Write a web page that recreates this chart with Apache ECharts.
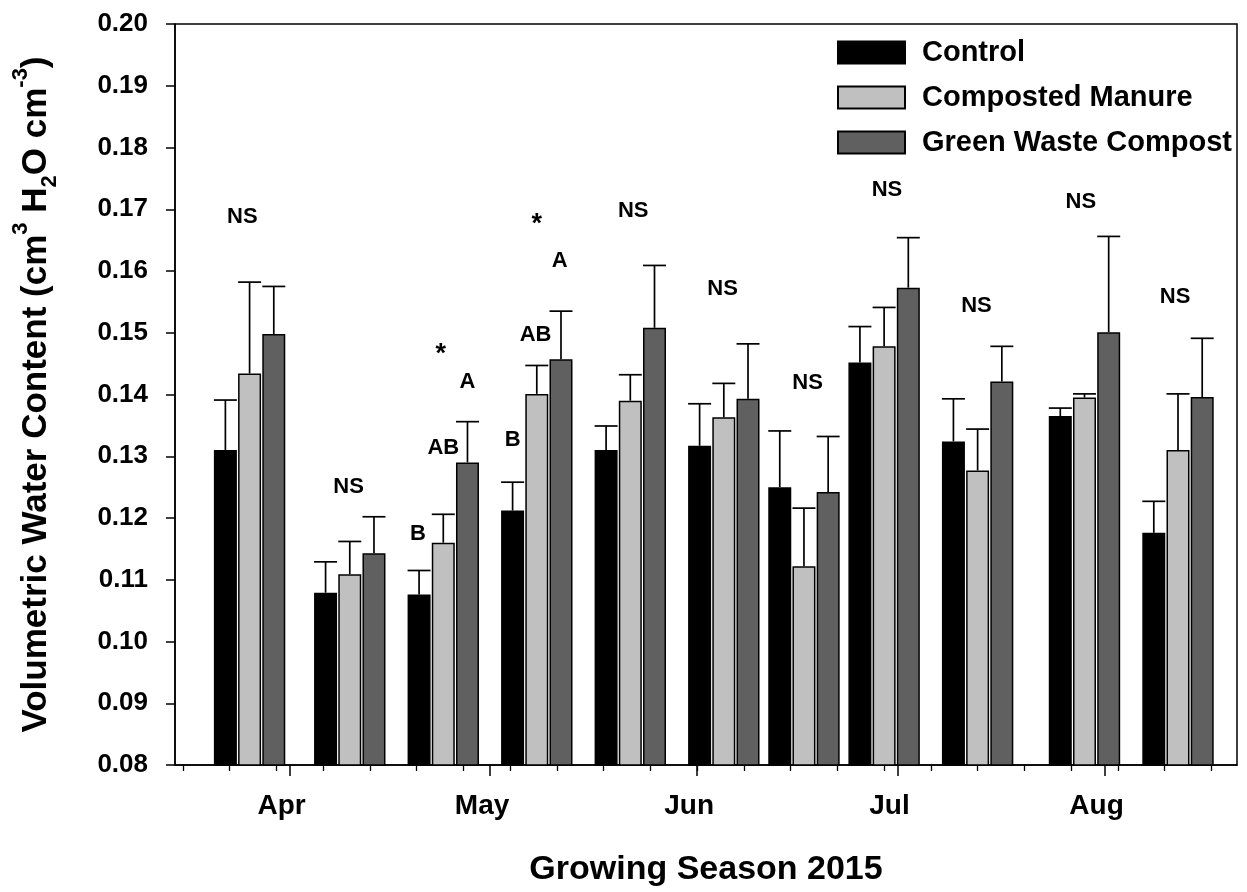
<!DOCTYPE html>
<html>
<head>
<meta charset="utf-8">
<script src="https://cdn.jsdelivr.net/npm/echarts@6/dist/echarts.min.js"></script>
<style>
html,body{margin:0;padding:0;background:#fff;}
#c{width:1247px;height:892px;}
</style>
</head>
<body>
<div id="c"></div>
<script>
// ---------- data ----------
const sampleDates = ['2015-03-26','2015-04-10','2015-04-24','2015-05-08','2015-05-22','2015-06-05','2015-06-17','2015-06-29','2015-07-13','2015-07-29','2015-08-12'];
const seriesNames = ['Control','Composted Manure','Green Waste Compost'];
const control     = [0.1310,0.1079,0.1076,0.1212,0.1310,0.1317,0.1250,0.1452,0.1324,0.1365,0.1176];
const controlTop  = [0.1391,0.1129,0.1115,0.1258,0.1349,0.1385,0.1341,0.1510,0.1393,0.1378,0.1227];
const manure      = [0.1434,0.1109,0.1160,0.1401,0.1390,0.1363,0.1122,0.1478,0.1277,0.1395,0.1310];
const manureTop   = [0.1582,0.1162,0.1206,0.1447,0.1432,0.1418,0.1216,0.1541,0.1344,0.1401,0.1401];
const green       = [0.1498,0.1143,0.1290,0.1457,0.1508,0.1393,0.1242,0.1573,0.1421,0.1501,0.1396];
const greenTop    = [0.1575,0.1202,0.1356,0.1535,0.1609,0.1482,0.1332,0.1654,0.1478,0.1656,0.1491];

const monthTicks  = ['2015-04-01','2015-05-01','2015-06-01','2015-07-01','2015-08-01'];
const monthLabels = ['Apr','May','Jun','Jul','Aug'];
const weekTicks   = ['2015-03-16','2015-03-23','2015-03-30','2015-04-06','2015-04-13','2015-04-20','2015-04-27',
                     '2015-05-04','2015-05-11','2015-05-18','2015-05-25','2015-06-01','2015-06-08','2015-06-15',
                     '2015-06-22','2015-06-29','2015-07-06','2015-07-13','2015-07-20','2015-07-27','2015-08-03',
                     '2015-08-10','2015-08-17'];

// annotations: [sample index, y value, text, horizontal shift (bars)]
const annotations = [
  [0, 0.1688, 'NS', -0.3],
  [1, 0.1251, 'NS', -0.05],
  [2, 0.1174, 'B', -1.05], [2, 0.1314, 'AB', 0], [2, 0.1421, 'A', 1.0], [2, 0.1473, '*', -0.1],
  [3, 0.1327, 'B', -1.0],  [3, 0.1497, 'AB', -0.05], [3, 0.1616, 'A', 0.95], [3, 0.1683, '*', 0],
  [4, 0.1698, 'NS', 0.12],
  [5, 0.1571, 'NS', -0.05],
  [6, 0.1418, 'NS', 0.15],
  [7, 0.1732, 'NS', 0.12],
  [8, 0.1544, 'NS', -0.05],
  [9, 0.1712, 'NS', -0.15],
  [10, 0.1558, 'NS', -0.12]
];

// ---------- helpers ----------
function t(s){ const p = s.split(/[- :]/).map(Number); return new Date(p[0], p[1]-1, p[2], p[3]||0, p[4]||0).getTime(); }
const monthMap = {};
monthTicks.forEach((d,i)=>{ monthMap[t(d)] = monthLabels[i]; });

const FONT = 'Liberation Sans, Arial, sans-serif';
const BAR_W = 23;
const GAP = 1.2;
const STEP = BAR_W + GAP;
const colors = ['#000000','#c0c0c0','#606060'];
const means = [control, manure, green];
const tops = [controlTop, manureTop, greenTop];
const X_MIN = t('2015-03-14 20:00'), X_MAX = t('2015-08-20 20:00');

const barSeries = means.map((vals, si) => ({
  type: 'bar',
  name: seriesNames[si],
  xAxisIndex: 0,
  barWidth: BAR_W,
  barGap: (GAP / BAR_W * 100) + '%',
  itemStyle: { color: colors[si], borderColor: '#000', borderWidth: 1.5 },
  data: sampleDates.map((d,i)=>[t(d), vals[i]]),
  z: 2
}));

const errSeries = means.map((vals, si) => ({
  type: 'custom',
  name: seriesNames[si] + ' err',
  xAxisIndex: 0,
  data: sampleDates.map((d,i)=>[t(d), vals[i], tops[si][i]]),
  renderItem: function(params, api){
    const lo = api.coord([api.value(0), api.value(1)]);
    const hi = api.coord([api.value(0), api.value(2)]);
    const x = lo[0] + (si - 1) * STEP;
    const half = BAR_W / 2;
    const st = { stroke: '#000', lineWidth: 1.7 };
    return { type: 'group', children: [
      { type: 'line', shape: { x1: x, y1: lo[1], x2: x, y2: hi[1] }, style: st },
      { type: 'line', shape: { x1: x - half, y1: hi[1], x2: x + half, y2: hi[1] }, style: st }
    ]};
  },
  z: 3,
  silent: true
}));

const annSeries = {
  type: 'custom',
  name: 'annotations',
  xAxisIndex: 0,
  data: annotations.map(a => [t(sampleDates[a[0]]), a[1]]),
  renderItem: function(params, api){
    const p = api.coord([api.value(0), api.value(1)]);
    const txt = annotations[params.dataIndex][2];
    const shift = annotations[params.dataIndex][3];
    const star = txt === '*';
    return {
      type: 'text',
      x: p[0] + shift * STEP,
      y: p[1] + (star ? 5 : 0),
      style: {
        text: txt,
        font: 'bold ' + (star ? 27 : 22) + 'px ' + FONT,
        fill: '#000',
        align: 'center',
        verticalAlign: 'middle'
      }
    };
  },
  z: 4,
  silent: true
};

const chart = echarts.init(document.getElementById('c'), null, { renderer: 'canvas' });
chart.setOption({
  animation: false,
  backgroundColor: '#fff',
  grid: { left: 175, right: 10, top: 24, bottom: 126, show: true, borderColor: '#000', borderWidth: 1.5, backgroundColor: 'transparent' },
  legend: {
    data: seriesNames,
    orient: 'vertical',
    left: 837, top: 38,
    padding: 0,
    itemWidth: 67, itemHeight: 22, itemGap: 16,
    icon: 'rect',
    textStyle: { fontFamily: FONT, fontWeight: 'bold', fontSize: 29, lineHeight: 22, color: '#000', padding: [0, 0, 0, 12] }
  },
  xAxis: [
    {
      type: 'value',
      min: X_MIN, max: X_MAX,
      axisLine: { show: true, onZero: false, lineStyle: { color: '#000', width: 1.5 } },
      axisTick: { show: true, length: 11, lineStyle: { color: '#000', width: 1.5 }, customValues: monthTicks.map(t) },
      axisLabel: {
        customValues: monthTicks.map(t),
        formatter: v => monthMap[v] || '',
        fontFamily: FONT, fontWeight: 'bold', fontSize: 28, color: '#000', margin: 27,
        padding: [0, 16, 0, 0]
      },
      splitLine: { show: false },
      name: 'Growing Season 2015',
      nameLocation: 'middle',
      nameGap: 88,
      nameTextStyle: { fontFamily: FONT, fontWeight: 'bold', fontSize: 34, color: '#000' }
    },
    {
      type: 'value',
      position: 'bottom',
      min: X_MIN, max: X_MAX,
      axisLine: { show: false, onZero: false },
      axisTick: { show: true, length: 6, lineStyle: { color: '#000', width: 1.3 }, customValues: weekTicks.map(t) },
      axisLabel: { show: false },
      splitLine: { show: false }
    }
  ],
  yAxis: {
    type: 'value',
    min: 0.08, max: 0.20, interval: 0.01,
    axisLine: { show: true, lineStyle: { color: '#000', width: 1.5 } },
    axisTick: { show: true, length: 9, lineStyle: { color: '#000', width: 1.5 } },
    axisLabel: { formatter: v => v.toFixed(2), fontFamily: FONT, fontWeight: 'bold', fontSize: 26, color: '#000', margin: 27 },
    splitLine: { show: false },
    name: '{b|Volumetric Water Content (cm}{sup|3}{b| H}{sub|2}{b|O cm}{sup|-3}{b|)}',
    nameLocation: 'middle',
    nameRotate: 90,
    nameGap: 121,
    nameTextStyle: {
      fontFamily: FONT, fontWeight: 'bold', fontSize: 35, color: '#000',
      rich: {
        b:   { fontFamily: FONT, fontWeight: 'bold', fontSize: 35, color: '#000', lineHeight: 44, verticalAlign: 'bottom' },
        sup: { fontFamily: FONT, fontWeight: 'bold', fontSize: 22, color: '#000', lineHeight: 44, verticalAlign: 'top' },
        sub: { fontFamily: FONT, fontWeight: 'bold', fontSize: 22, color: '#000', lineHeight: 24, verticalAlign: 'bottom', padding: [0,0,-7,0] }
      }
    }
  },
  series: [...barSeries, ...errSeries, annSeries]
});
</script>
</body>
</html>
